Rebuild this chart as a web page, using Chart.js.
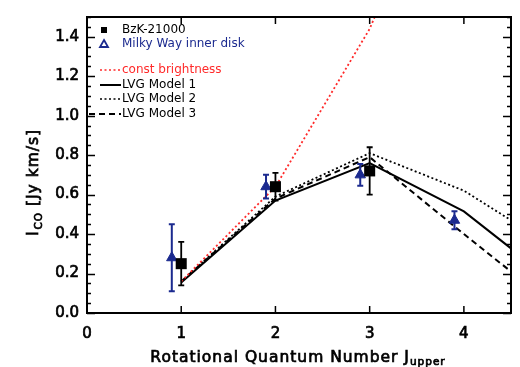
<!DOCTYPE html>
<html>
<head>
<meta charset="utf-8">
<script src="https://cdn.jsdelivr.net/npm/chart.js@4"></script>
<style>
  html, body { margin: 0; padding: 0; background: #fff; }
  #box { width: 520px; height: 367px; }
</style>
</head>
<body>
<div id="box"><canvas id="coChart" width="520" height="367"></canvas></div>
<script>

/* CO line fluxes of BzK-21000 and the Milky Way inner disk, with LVG models */
const xTicks = [0, 1, 2, 3, 4];
const yTicks = [0.0, 0.2, 0.4, 0.6, 0.8, 1.0, 1.2, 1.4];

const bzkJ = [1, 2, 3];
const bzkFlux = [0.25, 0.64, 0.72];
const bzkErr = [0.11, 0.07, 0.12];

const mwJ = [0.9, 1.9, 2.9, 3.9];
const mwFlux = [0.28, 0.64, 0.70, 0.47];
const mwErr = [0.17, 0.06, 0.055, 0.045];

const constJ = [1, 2, 3, 4];
const constBright = [0.16, 0.64, 1.44, 2.56];

const modelJ = [1, 2, 3, 4, 5];
const lvgModel1 = [0.155, 0.57, 0.76, 0.515, 0.14];
const lvgModel2 = [0.16, 0.59, 0.81, 0.62, 0.32];
const lvgModel3 = [0.16, 0.58, 0.79, 0.40, 0.02];

const BLUE = '#1b2a8f';
const RED = '#ff2a2a';
const FONT = 'DejaVu Sans';

function pts(xs, ys) {
      return xs.map((x, i) => ({ x: x, y: ys[i] }));
}

function lineSet(label, xs, ys, color, dash) {
      return {
            label: label,
            data: pts(xs, ys),
            showLine: true,
            borderColor: color,
            borderWidth: dash.length && dash[0] < 3 ? 1.8 : 2,
            borderDash: dash,
            pointRadius: 0,
            fill: false
      };
}

/* text with a thin outline, a bit heavier than regular */
function heavyText(ctx, str, x, y) {
      ctx.fillText(str, x, y);
      ctx.strokeText(str, x, y);
}

/* error bars, frame with inward ticks, axis titles with subscripts, legend */
const idlAxes = {
      id: 'idlAxes',
      afterDatasetsDraw(chart) {
            const ctx = chart.ctx;
            const xs = chart.scales.x, ys = chart.scales.y;
            const bars = [[bzkJ, bzkFlux, bzkErr, '#000', 1.8], [mwJ, mwFlux, mwErr, BLUE, 2]];
            ctx.save();
            bars.forEach(([jx, val, err, color, lw]) => {
                  ctx.strokeStyle = color;
                  ctx.lineWidth = lw;
                  jx.forEach((j, i) => {
                        const px = xs.getPixelForValue(j);
                        const top = ys.getPixelForValue(val[i] + err[i]);
                        const bot = ys.getPixelForValue(val[i] - err[i]);
                        ctx.beginPath();
                        ctx.moveTo(px, top); ctx.lineTo(px, bot);
                        ctx.moveTo(px - 3, top); ctx.lineTo(px + 3, top);
                        ctx.moveTo(px - 3, bot); ctx.lineTo(px + 3, bot);
                        ctx.stroke();
                  });
            });
            ctx.restore();
      },
      afterDraw(chart) {
            const ctx = chart.ctx;
            const a = chart.chartArea;
            const xs = chart.scales.x, ys = chart.scales.y;
            ctx.save();
            ctx.strokeStyle = '#000';
            ctx.lineWidth = 2;
            ctx.strokeRect(a.left, a.top, a.right - a.left, a.bottom - a.top);

            ctx.lineWidth = 1.5;
            ctx.beginPath();
            xTicks.forEach(v => {
                  const px = xs.getPixelForValue(v);
                  ctx.moveTo(px, a.bottom); ctx.lineTo(px, a.bottom - 7);
                  ctx.moveTo(px, a.top); ctx.lineTo(px, a.top + 7);
            });
            for (let v = 0; v <= ys.max + 1e-9; v += 0.05) {
                  const py = Math.round(ys.getPixelForValue(v)) + 0.5;
                  const major = Math.abs(v / 0.2 - Math.round(v / 0.2)) < 1e-6;
                  const len = major ? 8 : 4;
                  ctx.moveTo(a.left, py); ctx.lineTo(a.left + len, py);
                  ctx.moveTo(a.right, py); ctx.lineTo(a.right - len, py);
            }
            ctx.stroke();

            const big = '15.5px "' + FONT + '"';
            const sub = '10.5px "' + FONT + '"';

            // x title: Rotational Quantum Number J_upper
            ctx.fillStyle = '#000';
            ctx.lineWidth = 0.7;
            ctx.textBaseline = 'alphabetic';
            ctx.letterSpacing = '1px';
            ctx.font = big;
            const main = 'Rotational Quantum Number J';
            const mw = ctx.measureText(main).width;
            ctx.font = sub;
            const sw = ctx.measureText('upper').width;
            let x0 = 298 - (mw + sw) / 2;
            ctx.font = big;
            ctx.textAlign = 'left';
            heavyText(ctx, main, x0, 362);
            ctx.font = sub;
            heavyText(ctx, 'upper', x0 + mw, 365);

            // y title: I_CO [Jy km/s]
            ctx.translate(38, 183);
            ctx.rotate(-Math.PI / 2);
            ctx.font = big;
            const w1 = ctx.measureText('I').width;
            const w3 = ctx.measureText(' [Jy km/s]').width;
            ctx.font = sub;
            const w2 = ctx.measureText('CO').width;
            let t0 = -(w1 + w2 + w3) / 2;
            ctx.font = big;
            heavyText(ctx, 'I', t0, 0);
            ctx.font = sub;
            heavyText(ctx, 'CO', t0 + w1 + 1, 4);
            ctx.font = big;
            heavyText(ctx, ' [Jy km/s]', t0 + w1 + w2 + 1, 0);
            ctx.restore();

            drawLegend(ctx);
      }
};

function drawLegend(ctx) {
      ctx.save();
      ctx.font = '12px "' + FONT + '"';
      ctx.textBaseline = 'middle';
      ctx.textAlign = 'left';
      const tx = 122;

      ctx.fillStyle = '#000';
      ctx.fillRect(101, 27, 6, 6);
      ctx.fillText('BzK-21000', tx, 30);

      ctx.strokeStyle = BLUE;
      ctx.lineWidth = 1.8;
      ctx.beginPath();
      ctx.moveTo(104, 40); ctx.lineTo(108, 47); ctx.lineTo(100, 47); ctx.closePath();
      ctx.stroke();
      ctx.fillStyle = BLUE;
      ctx.fillText('Milky Way inner disk', tx, 44);

      const rows = [
            ['const brightness', RED, [2, 2.5], 100, 70],
            ['LVG Model 1', '#000', [], 100, 85],
            ['LVG Model 2', '#000', [2, 2.5], 100, 99],
            ['LVG Model 3', '#000', [6, 4], 89, 114]
      ];
      rows.forEach(([label, color, dash, x1, y]) => {
            ctx.strokeStyle = color;
            ctx.lineWidth = dash.length && dash[0] < 3 ? 1.6 : 2;
            ctx.setLineDash(dash);
            ctx.beginPath();
            ctx.moveTo(x1, y); ctx.lineTo(121, y);
            ctx.stroke();
            ctx.setLineDash([]);
            ctx.fillStyle = color;
            ctx.fillText(label, tx, y);
      });
      ctx.restore();
}

function createChart() {
      const canvaNode = document.getElementById('coChart');
      const tickFont = { family: FONT, size: 15 };

      chart = new Chart(canvaNode, {
            type: 'scatter',
            data: {
                  datasets: [
                        {
                              label: 'BzK-21000',
                              data: pts(bzkJ, bzkFlux),
                              pointStyle: 'rect',
                              pointRadius: 7.8,
                              backgroundColor: '#000',
                              borderColor: '#000',
                              borderWidth: 0
                        },
                        {
                              label: 'Milky Way inner disk',
                              data: pts(mwJ, mwFlux),
                              pointStyle: 'triangle',
                              pointRadius: 6,
                              backgroundColor: BLUE,
                              borderColor: BLUE,
                              borderWidth: 1
                        },
                        lineSet('const brightness', constJ, constBright, RED, [2, 2.5]),
                        lineSet('LVG Model 1', modelJ, lvgModel1, '#000', []),
                        lineSet('LVG Model 2', modelJ, lvgModel2, '#000', [2, 2.5]),
                        lineSet('LVG Model 3', modelJ, lvgModel3, '#000', [6, 4])
                  ]
            },
            options: {
                  responsive: false,
                  animation: false,
                  devicePixelRatio: 1,
                  layout: { padding: { top: 13, right: 9, left: 0, bottom: 0 } },
                  plugins: {
                        legend: { display: false },
                        tooltip: { enabled: false }
                  },
                  scales: {
                        x: {
                              type: 'linear',
                              min: 0,
                              max: 4.5,
                              afterBuildTicks: s => { s.ticks = xTicks.map(v => ({ value: v })); },
                              afterFit: s => { s.height = 54; },
                              grid: { display: false, drawTicks: false },
                              border: { display: false },
                              ticks: {
                                    color: '#000',
                                    textStrokeColor: '#000',
                                    textStrokeWidth: 0.7,
                                    padding: 12,
                                    maxRotation: 0,
                                    font: tickFont,
                                    callback: v => String(v)
                              }
                        },
                        y: {
                              type: 'linear',
                              min: 0,
                              max: 1.5,
                              afterBuildTicks: s => { s.ticks = yTicks.map(v => ({ value: v })); },
                              afterFit: s => { s.width = 87; },
                              grid: { display: false, drawTicks: false },
                              border: { display: false },
                              ticks: {
                                    color: '#000',
                                    textStrokeColor: '#000',
                                    textStrokeWidth: 0.7,
                                    padding: 8,
                                    font: tickFont,
                                    callback: v => v.toFixed(1)
                              }
                        }
                  }
            },
            plugins: [idlAxes]
      });
}

createChart();
</script>
</body>
</html>
